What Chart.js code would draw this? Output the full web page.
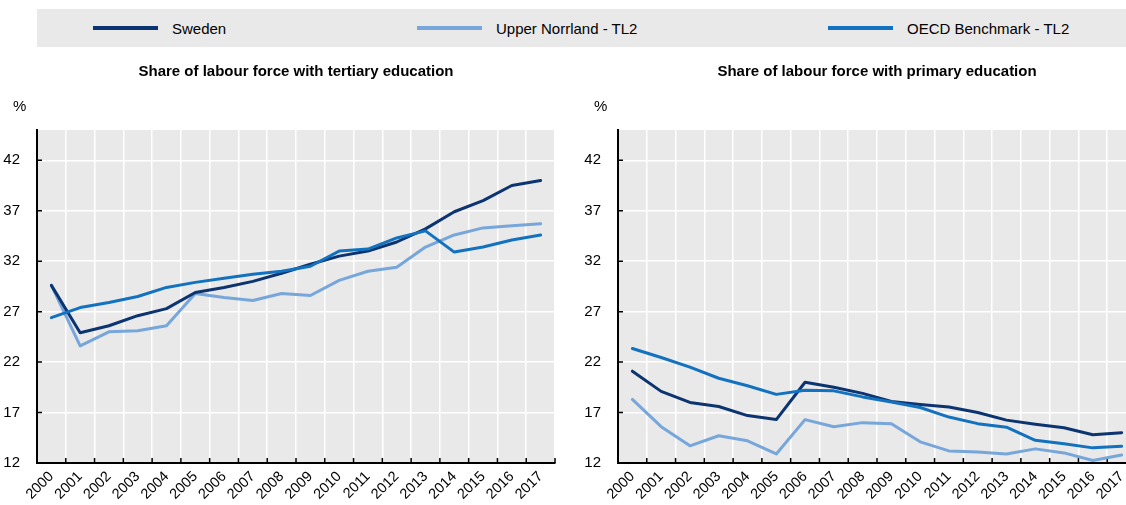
<!DOCTYPE html>
<html>
<head>
<meta charset="utf-8">
<script src="https://cdn.jsdelivr.net/npm/chart.js@4"></script>
<style>
  html, body { margin: 0; padding: 0; background: #fff; overflow: hidden; }
  body { width: 1126px; height: 505px; position: relative; font-family: 'Liberation Sans', Arial, sans-serif; }
  .legend { position: absolute; left: 37px; top: 9px; width: 1100px; height: 38px; background: #e9e9e9; }
  .item { position: absolute; top: 0; height: 38px; display: flex; align-items: center; font-size: 15px; color: #000; }
  .swatch { width: 65px; height: 4px; margin-right: 14px; }
  .panel { position: absolute; top: 0; }
</style>
</head>
<body>
<div class="legend">
  <div class="item" style="left:56px"><span class="swatch" style="background:#0c3470"></span>Sweden</div>
  <div class="item" style="left:380px"><span class="swatch" style="background:#77a6db"></span>Upper Norrland - TL2</div>
  <div class="item" style="left:791px"><span class="swatch" style="background:#1272bf"></span>OECD Benchmark - TL2</div>
</div>
<canvas id="tertiaryCanvas" class="panel" width="560" height="505" style="left:0"></canvas>
<canvas id="primaryCanvas" class="panel" width="560" height="505" style="left:581px"></canvas>
<script>
const FONT = "'Liberation Sans', Arial, sans-serif";

const years = ['2000', '2001', '2002', '2003', '2004', '2005', '2006', '2007', '2008',
               '2009', '2010', '2011', '2012', '2013', '2014', '2015', '2016', '2017'];
const yTicks = [12, 17, 22, 27, 32, 37, 42];

// Share of labour force with tertiary education (%)
const tertiarySweden   = [29.6, 24.9, 25.6, 26.6, 27.3, 28.9, 29.4, 30.0, 30.8, 31.7, 32.5, 33.0, 33.9, 35.2, 36.9, 38.0, 39.5, 40.0];
const tertiaryNorrland = [29.6, 23.6, 25.0, 25.1, 25.6, 28.8, 28.4, 28.1, 28.8, 28.6, 30.1, 31.0, 31.4, 33.4, 34.6, 35.3, 35.5, 35.7];
const tertiaryOecd     = [26.4, 27.4, 27.9, 28.5, 29.4, 29.9, 30.3, 30.7, 31.0, 31.5, 33.0, 33.2, 34.3, 35.0, 32.9, 33.4, 34.1, 34.6];

// Share of labour force with primary education (%)
const primarySweden   = [21.1, 19.1, 18.0, 17.6, 16.7, 16.3, 20.0, 19.5, 18.9, 18.1, 17.8, 17.55, 17.0, 16.25, 15.85, 15.5, 14.8, 15.0];
const primaryNorrland = [18.3, 15.6, 13.7, 14.7, 14.2, 12.9, 16.3, 15.6, 16.0, 15.9, 14.1, 13.2, 13.1, 12.9, 13.4, 13.0, 12.25, 12.8];
const primaryOecd     = [23.35, 22.45, 21.5, 20.4, 19.65, 18.8, 19.2, 19.15, 18.55, 18.05, 17.5, 16.55, 15.9, 15.55, 14.25, 13.9, 13.5, 13.65];

const colors = { sweden: '#0c3470', norrland: '#77a6db', oecd: '#1272bf' };

// Grey plot background, panel title, "%" unit and the small inward ticks
const panelDecor = {
    id: 'panelDecor',
    beforeDraw(chart, args, opts) {
        const { ctx, chartArea: a } = chart;
        ctx.save();
        ctx.fillStyle = '#e9e9e9';
        ctx.fillRect(a.left, a.top, a.right - a.left, a.bottom - a.top);
        ctx.fillStyle = '#000';
        ctx.font = 'bold 15px ' + FONT;
        ctx.textAlign = 'center';
        ctx.textBaseline = 'middle';
        ctx.fillText(opts.title, (a.left + a.right) / 2, 72);
        ctx.font = '15px ' + FONT;
        ctx.textAlign = 'left';
        ctx.fillText('%', a.left - 24, 107);
        ctx.restore();
    },
    beforeDatasetsDraw(chart) {
        const { ctx, chartArea: a, scales: { x, y } } = chart;
        const n = x.ticks.length;
        const step = (a.right - a.left) / n;
        ctx.save();
        ctx.strokeStyle = '#000';
        ctx.lineWidth = 1.5;
        ctx.beginPath();
        for (let i = 1; i <= n; i++) {
            const px = a.left + i * step;
            ctx.moveTo(px, a.bottom);
            ctx.lineTo(px, a.bottom - 5);
        }
        y.ticks.forEach(t => {
            if (t.value === y.min) return;
            const py = y.getPixelForValue(t.value);
            ctx.moveTo(a.left, py);
            ctx.lineTo(a.left + 5, py);
        });
        ctx.stroke();
        ctx.restore();
    }
};

function lineSet(label, data, color) {
    return {
        label: label,
        data: data,
        borderColor: color,
        backgroundColor: color,
        borderWidth: 3,
        pointRadius: 0,
        tension: 0,
        borderCapStyle: 'round',
        borderJoinStyle: 'round',
        fill: false
    };
}

function makePanel(canvasId, title, sweden, norrland, oecd) {
    const ctx = document.getElementById(canvasId).getContext('2d');
    return new Chart(ctx, {
        type: 'line',
        data: {
            labels: years,
            // first dataset is painted last, so OECD sits on top
            datasets: [
                lineSet('OECD Benchmark - TL2', oecd, colors.oecd),
                lineSet('Sweden', sweden, colors.sweden),
                lineSet('Upper Norrland - TL2', norrland, colors.norrland)
            ]
        },
        options: {
            responsive: false,
            animation: false,
            layout: { padding: { top: 130, left: 0, right: 5, bottom: 0 } },
            scales: {
                x: {
                    type: 'category',
                    offset: true,
                    afterFit: s => { s.height = 42; },
                    grid: {
                        offset: true,
                        drawTicks: false,
                        lineWidth: 1.5,
                        color: c => c.index === 0 ? 'rgba(0,0,0,0)' : '#ffffff'
                    },
                    border: { color: '#000', width: 2 },
                    ticks: {
                        autoSkip: false,
                        maxRotation: 45,
                        minRotation: 45,
                        padding: 5,
                        color: '#000',
                        font: { family: FONT, size: 14.5 }
                    }
                },
                y: {
                    min: 12,
                    max: 45,
                    afterFit: s => { s.width = 37; },
                    afterBuildTicks: s => { s.ticks = yTicks.map(v => ({ value: v })); },
                    grid: {
                        drawTicks: false,
                        lineWidth: 1.5,
                        color: c => c.index === 0 ? 'rgba(0,0,0,0)' : '#ffffff'
                    },
                    border: { color: '#000', width: 2 },
                    ticks: {
                        padding: 17,
                        color: '#000',
                        font: { family: FONT, size: 15 }
                    }
                }
            },
            plugins: {
                legend: { display: false },
                tooltip: { enabled: false },
                panelDecor: { title: title }
            }
        },
        plugins: [panelDecor]
    });
}

makePanel('tertiaryCanvas', 'Share of labour force with tertiary education',
    tertiarySweden, tertiaryNorrland, tertiaryOecd);
makePanel('primaryCanvas', 'Share of labour force with primary education',
    primarySweden, primaryNorrland, primaryOecd);
</script>
</body>
</html>
